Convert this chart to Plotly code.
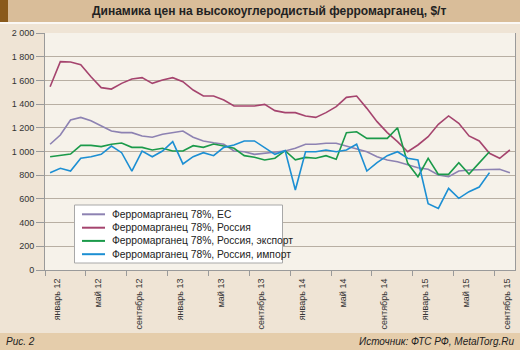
import plotly.graph_objects as go

months = ["январь", "февраль", "март", "апрель", "май", "июнь", "июль",
          "август", "сентябрь", "октябрь", "ноябрь", "декабрь"]
years = ["12", "13", "14", "15"]
categories = [f"{m} {y}" for y in years for m in months][:46]  # Jan 2012 - Oct 2015

eu = [1061, 1139, 1266, 1288, 1260, 1215, 1173, 1159, 1159, 1131,
      1120, 1145, 1159, 1173, 1120, 1089, 1074, 1061, 1004, 998,
      976, 985, 993, 1004, 1027, 1061, 1061, 1069, 1069, 1046,
      1027, 998, 956, 928, 914, 886, 863, 850, 802, 787,
      835, 844, 844, 844, 850, 821]
russia = [1547, 1758, 1755, 1733, 1631, 1539, 1527, 1575, 1612, 1623,
          1575, 1603, 1623, 1589, 1519, 1468, 1468, 1435, 1384, 1384,
          1384, 1398, 1345, 1328, 1328, 1300, 1288, 1328, 1378, 1457,
          1468, 1364, 1252, 1159, 1083, 998, 1055, 1125, 1229, 1300,
          1238, 1131, 1089, 985, 943, 1013]
export = [956, 965, 979, 1052, 1052, 1041, 1061, 1072, 1035, 1035,
          1013, 1027, 1004, 1004, 1049, 1035, 1063, 1046, 1027, 965,
          951, 928, 943, 1007, 930, 950, 943, 965, 934, 1159,
          1167, 1111, 1111, 1111, 1201, 900, 787, 943, 807, 807,
          906, 810, 904, 998, None, None]
imports = [821, 858, 835, 943, 956, 976, 1046, 990, 835, 1004,
           956, 1004, 1083, 895, 956, 990, 965, 1035, 1055, 1089,
           1089, 1035, 976, 1007, 675, 998, 998, 1013, 998, 1013,
           1061, 835, 906, 965, 998, 943, 928, 560, 520, 689,
           605, 661, 700, 822, None, None]

series_names = ["Ферромарганец 78%, ЕС", "Ферромарганец 78%, Россия",
                "Ферромарганец 78%, Россия, экспорт", "Ферромарганец 78%, Россия, импорт"]
series_values = [eu, russia, export, imports]
series_colors = ["#8d82b2", "#a5446e", "#1b9a4a", "#1c8fd3"]

title_text = "Динамика цен на высокоуглеродистый ферромарганец, $/т"
fig_label = "Рис. 2"
source_text = "Источник: ФТС РФ, MetalTorg.Ru"

W, H = 520, 350
L, R, T, B = 45, 515, 33, 270


def px2x(px):
    return (px - L) / (R - L)


def px2y(py):
    return (B - py) / (B - T)


fig = go.Figure()
for name, vals, col in zip(series_names, series_values, series_colors):
    fig.add_trace(go.Scatter(x=categories, y=vals, name=name, mode="lines",
                             line=dict(color=col, width=1.6), connectgaps=False))

font_main = "Liberation Sans, Arial, sans-serif"

shapes = [
    # title band
    dict(type="rect", xref="paper", yref="paper", x0=px2x(0), x1=px2x(W),
         y0=px2y(22), y1=px2y(0), fillcolor="#d9bd99", line=dict(width=0), layer="below"),
    dict(type="rect", xref="paper", yref="paper", x0=px2x(0), x1=px2x(8),
         y0=px2y(22), y1=px2y(0), fillcolor="#8a5a1c", line=dict(width=0), layer="below"),
    dict(type="line", xref="paper", yref="paper", x0=px2x(0), x1=px2x(W),
         y0=px2y(23), y1=px2y(23), line=dict(color="#ffffff", width=1.5)),
    # footer band
    dict(type="rect", xref="paper", yref="paper", x0=px2x(0), x1=px2x(W),
         y0=px2y(H), y1=px2y(333), fillcolor="#e5cdab", line=dict(width=0), layer="below"),
    # legend box
    dict(type="rect", xref="paper", yref="paper", x0=px2x(74.5), x1=px2x(282.5),
         y0=px2y(263), y1=px2y(205), fillcolor="#ffffff",
         line=dict(color="#a8a8a8", width=1), layer="above"),
]

annotations = [
    dict(text="<b>" + title_text + "</b>", xref="paper", yref="paper",
         x=px2x(269), y=px2y(11), xanchor="center", yanchor="middle",
         showarrow=False, font=dict(family=font_main, size=12, color="#222222")),
    dict(text="<i>" + fig_label + "</i>", xref="paper", yref="paper",
         x=px2x(4), y=px2y(341.5), xanchor="left", yanchor="middle",
         showarrow=False, font=dict(family=font_main, size=10, color="#222222")),
    dict(text="<i>" + source_text + "</i>", xref="paper", yref="paper",
         x=px2x(516), y=px2y(341.5), xanchor="right", yanchor="middle",
         showarrow=False, font=dict(family=font_main, size=10, color="#222222")),
]

legend_rows = [214.3, 227.7, 240.9, 254.2]
for name, col, yy in zip(series_names, series_colors, legend_rows):
    shapes.append(dict(type="line", xref="paper", yref="paper",
                       x0=px2x(82), x1=px2x(105), y0=px2y(yy), y1=px2y(yy),
                       line=dict(color=col, width=2), layer="above"))
    annotations.append(dict(text=name, xref="paper", yref="paper",
                            x=px2x(110), y=px2y(yy), xanchor="left", yanchor="middle",
                            showarrow=False,
                            font=dict(family=font_main, size=10.3, color="#222222")))

fig.update_layout(
    width=W, height=H,
    margin=dict(l=L, r=W - R, t=T, b=H - B),
    paper_bgcolor="#efe4d5",
    plot_bgcolor="#f6f2ea",
    separators=", ",
    showlegend=False,
    font=dict(family=font_main, size=9, color="#333333"),
    xaxis=dict(type="category", tickmode="linear", tick0=0, dtick=4,
               tickson="boundaries", ticks="outside", ticklen=5, tickcolor="#9a9a9a",
               tickangle=-90, ticklabelshift=7, ticklabelstandoff=4,
               tickfont=dict(family=font_main, size=9, color="#333333"),
               showgrid=False, showline=True, linecolor="#9a9a9a", linewidth=1,
               range=[-0.5, 45.5], zeroline=False),
    yaxis=dict(range=[0, 2000], dtick=200, tickformat=",d",
               ticks="outside", ticklen=8, tickcolor="#9a9a9a",
               tickfont=dict(family=font_main, size=9, color="#333333"),
               showgrid=True, gridcolor="#b8afa3", gridwidth=1,
               showline=True, linecolor="#9a9a9a", linewidth=1, mirror=True,
               zeroline=False),
    shapes=shapes,
    annotations=annotations,
)

fig.write_html("out.html")
